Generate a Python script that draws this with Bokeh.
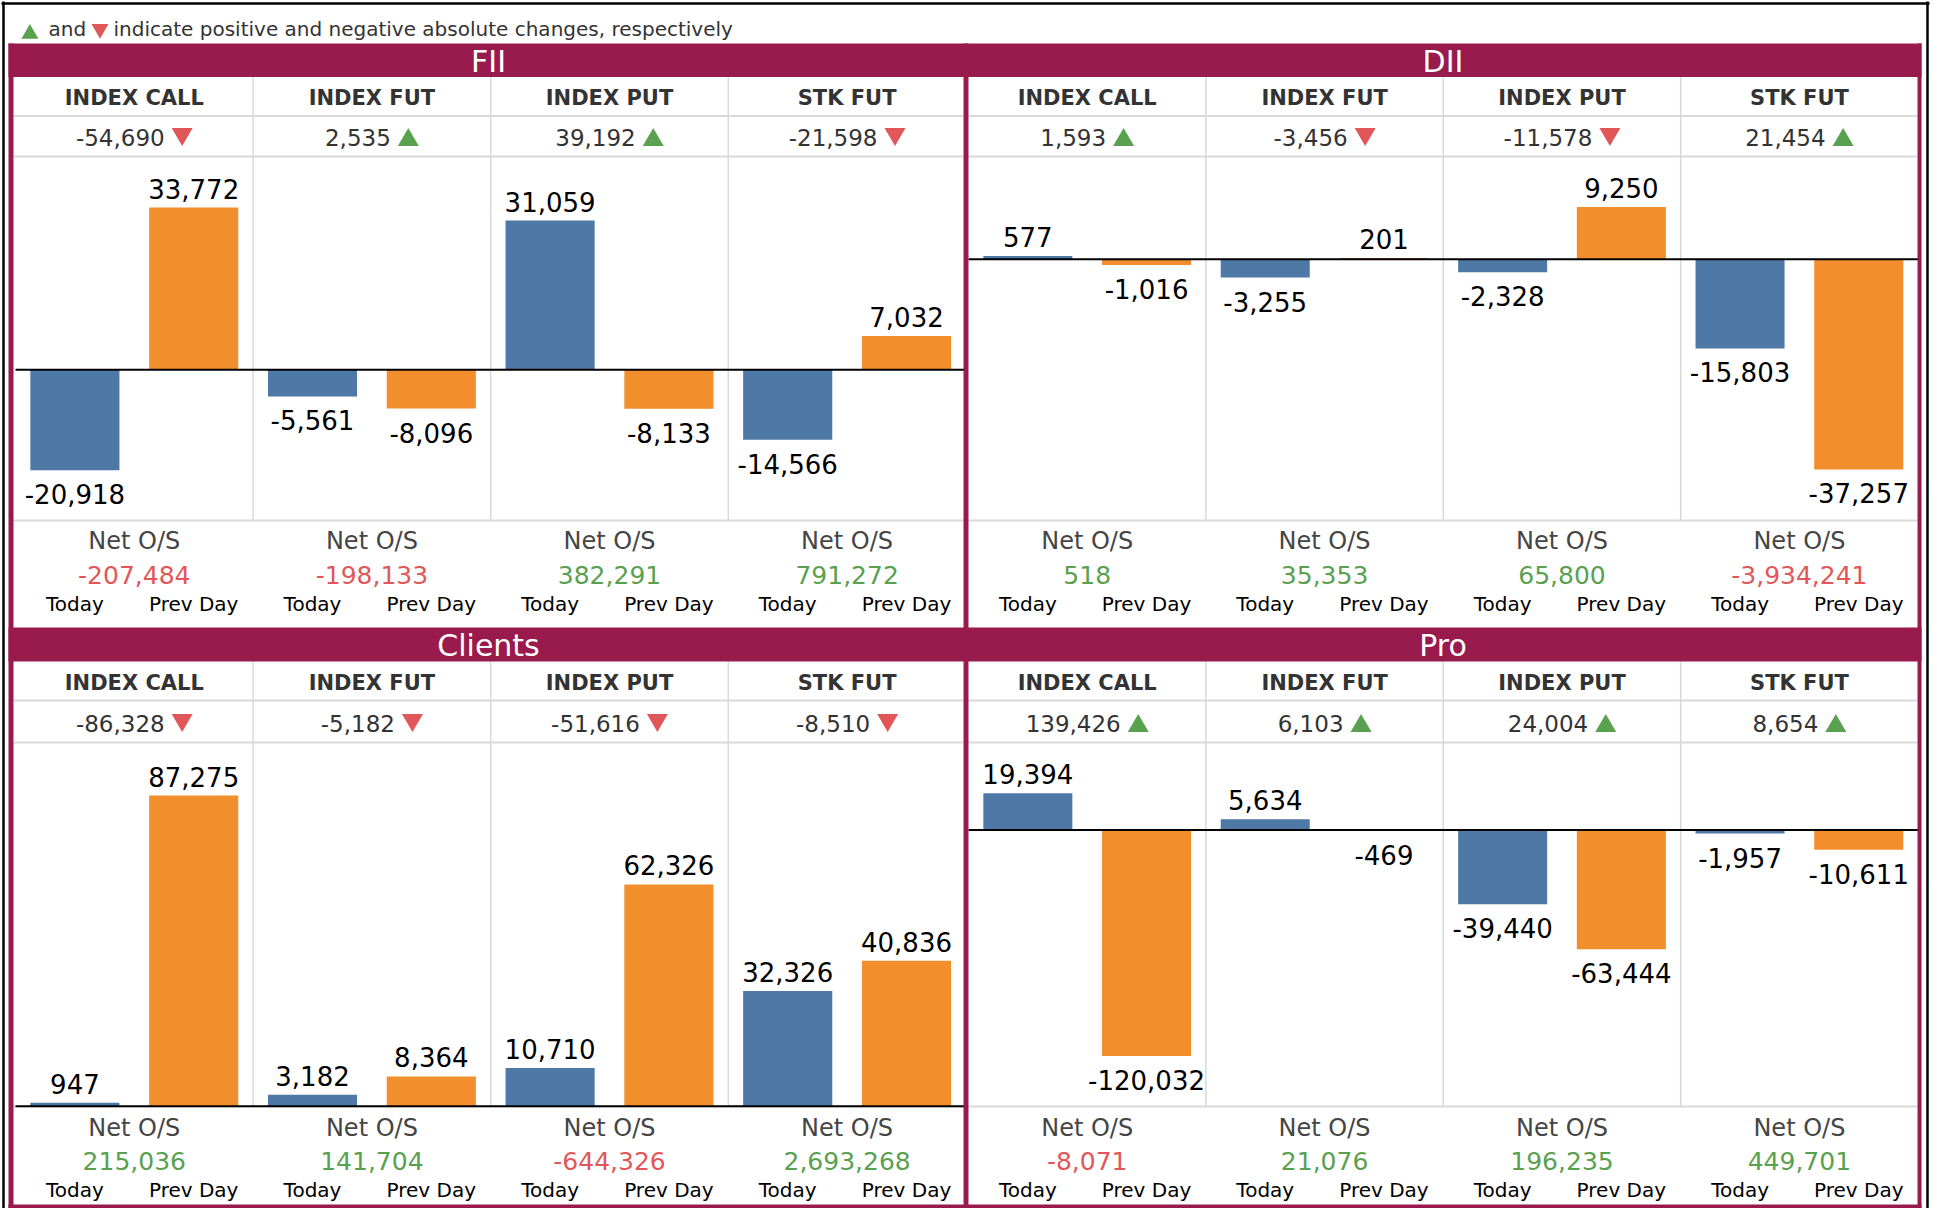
import math
from bokeh.plotting import figure
from bokeh.models import Range1d
from bokeh.core.properties import value
from bokeh.embed import file_html
from bokeh.resources import INLINE

# ---------------- data ----------------
categories = ["INDEX CALL", "INDEX FUT", "INDEX PUT", "STK FUT"]
groups = ["FII", "DII", "Clients", "Pro"]
series_labels = ["Today", "Prev Day"]
net_label = "Net O/S"
legend_and = "and"
legend_text = "indicate positive and negative absolute changes, respectively"

fii_today = [-20918, -5561, 31059, -14566]
fii_prev = [33772, -8096, -8133, 7032]
fii_change = [-54690, 2535, 39192, -21598]
fii_net = [-207484, -198133, 382291, 791272]

dii_today = [577, -3255, -2328, -15803]
dii_prev = [-1016, 201, 9250, -37257]
dii_change = [1593, -3456, -11578, 21454]
dii_net = [518, 35353, 65800, -3934241]

cli_today = [947, 3182, 10710, 32326]
cli_prev = [87275, 8364, 62326, 40836]
cli_change = [-86328, -5182, -51616, -8510]
cli_net = [215036, 141704, -644326, 2693268]

pro_today = [19394, 5634, -39440, -1957]
pro_prev = [-120032, -469, -63444, -10611]
pro_change = [139426, 6103, 24004, 8654]
pro_net = [-8071, 21076, 196235, 449701]

# ---------------- style / layout ----------------
W, H = 1931, 1208
FONT = value("DejaVu Sans")
MAROON = "#991a4c"
BLUE = "#4e79a7"
ORANGE = "#f28e2b"
GREEN = "#59a14f"
RED = "#e15759"
GRID = "#d9d9d9"
DARK = "#333333"

SIDES = {
    "left": dict(L=15.0, w=237.6, x0=13, x1=963),
    "right": dict(L=968.0, w=237.4, x0=968, x1=1917),
}
ROWS = {
    "top": dict(band=(43, 76.5), title_y=61, head_y=97.5, line1=115.5, chg_y=136.5,
                line2=156, chart=(156, 520), net_lab=540, net_val=574, day_y=603.5),
    "bottom": dict(band=(627, 661), title_y=645, head_y=682.5, line1=700, chg_y=722.5,
                   line2=742, chart=(742, 1106), net_lab=1127, net_val=1160, day_y=1189.5),
}
# (group, side, row, axis domain shown in the chart area)
panel_layout = [
    ("FII", "left", "top", (-31400, 44400)),
    ("DII", "right", "top", (-46300, 18200)),
    ("Clients", "left", "bottom", (-100, 102200)),
    ("Pro", "right", "bottom", (-146900, 46400)),
]
panel_data = {
    "FII": (fii_today, fii_prev, fii_change, fii_net),
    "DII": (dii_today, dii_prev, dii_change, dii_net),
    "Clients": (cli_today, cli_prev, cli_change, cli_net),
    "Pro": (pro_today, pro_prev, pro_change, pro_net),
}

ADV = {c: 0.636 for c in "0123456789"}
ADV[","] = 0.318
ADV["-"] = 0.361


def text_w(s, px):
    return sum(ADV.get(ch, 0.6) for ch in s) * px


def fmt(v):
    return f"{v:,}"


p = figure(width=W, height=H, x_range=Range1d(0, W), y_range=Range1d(H, 0),
           output_backend="svg", toolbar_location=None, min_border=0, title=None,
           x_axis_location=None, y_axis_location=None, outline_line_color=None,
           background_fill_color="white", border_fill_color="white")
p.grid.visible = False

for side, s in SIDES.items():
    p.extra_x_ranges[side] = Range1d(start=-s["L"] / s["w"], end=(W - s["L"]) / s["w"])


def y_range_for(domain, top, bottom):
    vmin, vmax = domain
    k = (bottom - top) / (vmax - vmin)
    return Range1d(start=vmin - (H - bottom) / k, end=vmax + top / k)


TRI = 21
TRI_H = TRI * math.sqrt(3) / 2
GAP = 7

# outer black frame
p.segment(x0=[1, 3, 1927], x1=[1929, 3, 1927], y0=[3, 1, 1], y1=[3, H, H],
          line_color="black", line_width=2.5)

for name, side, row, dom in panel_layout:
    today, prev, change, net = panel_data[name]
    s, r = SIDES[side], ROWS[row]
    xn, yn = side, name
    p.extra_y_ranges[yn] = y_range_for(dom, *r["chart"])
    cb = r["chart"][1]

    # grid lines
    ys = [r["line1"], r["line2"], cb]
    p.segment(x0=[s["x0"]] * 3, x1=[s["x1"]] * 3, y0=ys, y1=ys, line_color=GRID, line_width=2)
    p.segment(x0=[1, 2, 3], x1=[1, 2, 3], y0=[r["band"][1]] * 3, y1=[cb] * 3,
              line_color=GRID, line_width=1.5, x_range_name=xn)

    xs_t = [i + 0.25 for i in range(len(categories))]
    xs_p = [i + 0.75 for i in range(len(categories))]
    p.vbar(x=xs_t, top=today, bottom=0, width=0.375, fill_color=BLUE, line_color=None,
           x_range_name=xn, y_range_name=yn)
    p.vbar(x=xs_p, top=prev, bottom=0, width=0.375, fill_color=ORANGE, line_color=None,
           x_range_name=xn, y_range_name=yn)
    p.segment(x0=[0], x1=[len(categories)], y0=[0], y1=[0], line_color="black", line_width=2,
              x_range_name=xn, y_range_name=yn)

    vals = today + prev
    p.text(x=xs_t + xs_p, y=vals, text=[fmt(v) for v in vals],
           y_offset=[-19 if v >= 0 else 24 for v in vals],
           text_align="center", text_baseline="middle", text_font=FONT,
           text_font_size="26px", text_color="black", x_range_name=xn, y_range_name=yn)

    xc = [i + 0.5 for i in range(len(categories))]
    # column headers
    p.text(x=xc, y=[r["head_y"]] * 4, text=categories, text_align="center",
           text_baseline="middle", text_font=FONT, text_font_size="21px",
           text_font_style="bold", text_color=DARK, x_range_name=xn)
    # change values + arrows
    ctext = [fmt(v) for v in change]
    widths = [text_w(t, 23) for t in ctext]
    p.text(x=xc, y=[r["chg_y"]] * 4, text=ctext,
           x_offset=[(w - GAP - TRI) / 2 for w in widths],
           text_align="right", text_baseline="middle", text_font=FONT,
           text_font_size="23px", text_color=DARK, x_range_name=xn)
    up = [(c + (w + GAP) / 2 / s["w"], r["chg_y"] + TRI_H / 6)
          for c, w, v in zip(xc, widths, change) if v >= 0]
    dn = [(c + (w + GAP) / 2 / s["w"], r["chg_y"] - TRI_H / 6)
          for c, w, v in zip(xc, widths, change) if v < 0]
    if up:
        p.scatter(x=[a for a, b in up], y=[b for a, b in up], marker="triangle", size=TRI,
                  fill_color=GREEN, line_color=None, x_range_name=xn)
    if dn:
        p.scatter(x=[a for a, b in dn], y=[b for a, b in dn], marker="inverted_triangle",
                  size=TRI, fill_color=RED, line_color=None, x_range_name=xn)

    # net O/S
    p.text(x=xc, y=[r["net_lab"]] * 4, text=[net_label] * 4, text_align="center",
           text_baseline="middle", text_font=FONT, text_font_size="24px",
           text_color="#454545", x_range_name=xn)
    p.text(x=xc, y=[r["net_val"]] * 4, text=[fmt(v) for v in net], text_align="center",
           text_baseline="middle", text_font=FONT, text_font_size="25px",
           text_color=[GREEN if v >= 0 else RED for v in net], x_range_name=xn)
    p.text(x=xs_t + xs_p, y=[r["day_y"]] * 8,
           text=[series_labels[0]] * 4 + [series_labels[1]] * 4, text_align="center",
           text_baseline="middle", text_font=FONT, text_font_size="20px",
           text_color="#000000", x_range_name=xn)

# maroon frame and title bands
p.quad(left=[8, 963, 1917, 8, 8, 8], right=[13, 968, 1921, 1921, 1921, 1921],
       top=[43, 43, 43, 43, 627, 1204], bottom=[1208, 1208, 1208, 76.5, 661, 1208],
       fill_color=MAROON, line_color=None)

for name, side, row, dom in panel_layout:
    s, r = SIDES[side], ROWS[row]
    p.text(x=[(s["x0"] + s["x1"]) / 2], y=[r["title_y"]], text=[name], text_align="center",
           text_baseline="middle", text_font=FONT, text_font_size="30px", text_color="white")

# legend line at top
LT = 17
LT_H = LT * math.sqrt(3) / 2
p.scatter(x=[29.4], y=[30.8 + LT_H / 6], marker="triangle", size=LT, fill_color=GREEN, line_color=None)
p.scatter(x=[99.5], y=[30.8 - LT_H / 6], marker="inverted_triangle", size=LT, fill_color=RED, line_color=None)
p.text(x=[48, 113], y=[28.8, 28.8], text=[legend_and, legend_text], text_align="left",
       text_baseline="middle", text_font=FONT, text_font_size="20px", text_color=DARK)

open("out.html", "w").write(file_html(p, INLINE))
